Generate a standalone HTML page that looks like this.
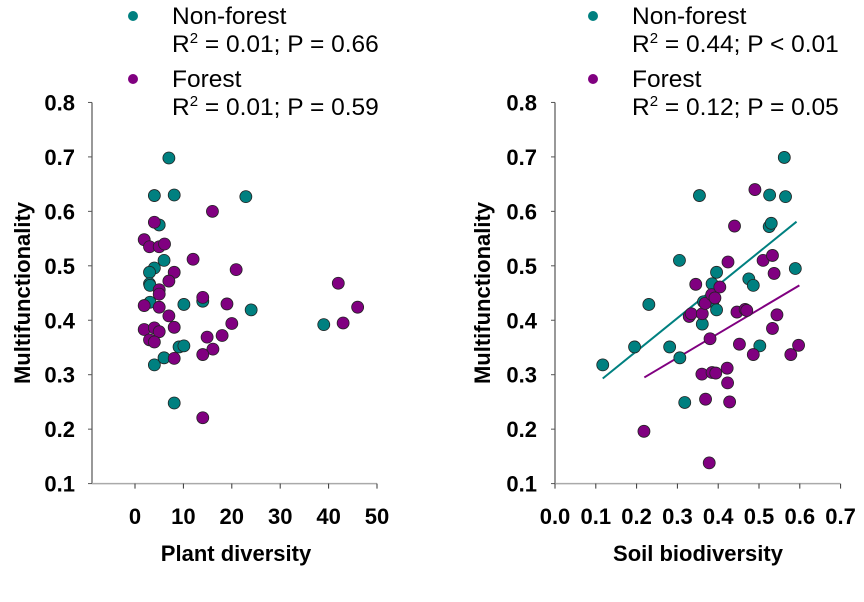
<!DOCTYPE html>
<html><head><meta charset="utf-8"><style>
body{margin:0;background:#fff;}
svg{font-family:"Liberation Sans",Arial,sans-serif;}
.tk{font-size:22px;font-weight:bold;}
.ttl{font-size:22px;font-weight:bold;}
.lg{font-size:24.5px;}
</style></head><body>
<svg id="chart" width="864" height="597" xmlns="http://www.w3.org/2000/svg"></svg>
<script>
const yTicks=[0.1,0.2,0.3,0.4,0.5,0.6,0.7,0.8];
const xTicksL=[0,10,20,30,40,50];
const xTicksR=[0.0,0.1,0.2,0.3,0.4,0.5,0.6,0.7];
const nfPlantX=[7,4,8.1,22.9,5,6,4,3,3,3.1,3.1,10.1,14,24,9.1,10.1,6,4,8.1,39];
const nfPlantY=[0.698,0.629,0.630,0.627,0.575,0.51,0.496,0.488,0.467,0.464,0.433,0.429,0.435,0.419,0.351,0.353,0.331,0.318,0.248,0.392];
const fPlantX=[16,4,1.9,3,5,6.1,12,20.9,8.1,7,5,5,1.9,5,14,19,7,20,1.9,4,5,8.1,3,4,14.9,18,16.1,14,8.1,14,42,46,43];
const fPlantY=[0.600,0.580,0.548,0.535,0.535,0.540,0.512,0.493,0.488,0.472,0.456,0.448,0.427,0.424,0.442,0.430,0.408,0.394,0.383,0.386,0.379,0.387,0.364,0.360,0.369,0.372,0.347,0.337,0.330,0.221,0.468,0.424,0.395];
const nfSoilX=[0.117,0.195,0.23,0.281,0.305,0.306,0.318,0.354,0.361,0.364,0.385,0.387,0.396,0.396,0.475,0.486,0.502,0.525,0.53,0.526,0.562,0.565,0.589];
const nfSoilY=[0.318,0.351,0.429,0.351,0.510,0.331,0.249,0.629,0.393,0.434,0.467,0.434,0.488,0.419,0.476,0.464,0.353,0.572,0.578,0.630,0.699,0.627,0.495];
const fSoilX=[0.218,0.329,0.334,0.345,0.361,0.368,0.369,0.36,0.38,0.384,0.392,0.385,0.394,0.378,0.404,0.422,0.423,0.428,0.424,0.44,0.446,0.452,0.466,0.47,0.486,0.49,0.51,0.533,0.537,0.533,0.544,0.578,0.597];
const fSoilY=[0.196,0.407,0.412,0.466,0.412,0.431,0.255,0.301,0.366,0.447,0.441,0.304,0.303,0.138,0.461,0.312,0.285,0.250,0.507,0.573,0.415,0.356,0.420,0.418,0.337,0.640,0.510,0.519,0.486,0.385,0.410,0.337,0.354];
const nfFitX=[0.117,0.592], nfFitY=[0.293,0.581];
const fFitX=[0.219,0.599], fFitY=[0.295,0.464];
const TEAL="#008080", PURP="#800080";
const svg=document.getElementById('chart');
const NS="http://www.w3.org/2000/svg";
function mk(tag,attrs,parent){const e=document.createElementNS(NS,tag);for(const k in attrs)e.setAttribute(k,attrs[k]);(parent||svg).appendChild(e);return e;}
const yS=v=>483.6-(v-0.1)*544.5;
const xL=v=>135+v*4.84;
const xR=v=>555+v*408;
function panel(name,axX,xEnd,xs,xticks,fmt,title,titleX,yLabX,yTitleX){
  const g=mk('g',{});
  
  
  const ya=mk('line',{x1:axX,y1:yS(0.8),x2:axX,y2:yS(0.1),stroke:'#555','stroke-width':1.2},g);
  
  const xa=mk('line',{x1:axX,y1:yS(0.1),x2:xEnd,y2:yS(0.1),stroke:'#aaa','stroke-width':1.5},g);
  
  yTicks.forEach(v=>{
    mk('line',{x1:axX-4,y1:yS(v),x2:axX,y2:yS(v),stroke:'#555'},g);
    const t=mk('text',{x:yLabX,y:yS(v)+8,'text-anchor':'end',class:'tk'},g);
    t.textContent=v.toFixed(1);
    
  });
  xticks.forEach(v=>{
    mk('line',{x1:xs(v),y1:yS(0.1),x2:xs(v),y2:yS(0.1)+5,stroke:'#333'},g);
    const t=mk('text',{x:xs(v),y:524,'text-anchor':'middle',class:'tk'},g);
    t.textContent=fmt(v);
    
  });
  const xt=mk('text',{x:titleX,y:561,'text-anchor':'middle',class:'ttl'},g);
  xt.textContent=title;
  const yt=mk('text',{x:0,y:0,'text-anchor':'middle',class:'ttl',transform:`translate(${yTitleX},293) rotate(-90)`},g);
  yt.textContent='Multifunctionality';
  return g;
}
function pts(g,X,Y,xs,col,nm){
  X.forEach((x,i)=>{const c=mk('circle',{cx:xs(x),cy:yS(Y[i]),r:6,fill:col,stroke:'#222','stroke-width':0.8},g);
    });
}
function legend(x0,r1,r2){
  const items=[['Non-forest',TEAL,r1,16],['Forest',PURP,r2,79]];
  items.forEach(([lab,col,r,y])=>{
    const c=mk('circle',{cx:x0,cy:y,r:5,fill:col});
    
    const t=mk('text',{x:x0+39,y:y+8,class:'lg'});t.textContent=lab;
    
    const s=mk('text',{x:x0+39,y:y+36,class:'lg'});
    s.innerHTML='R<tspan dy="-9" font-size="15">2</tspan><tspan dy="9"> = '+r+'</tspan>';
    
  });
}
const gL=panel('plant-diversity-panel',92,377,xL,xTicksL,v=>String(v),'Plant diversity',236,75,30);
pts(gL,nfPlantX,nfPlantY,xL,TEAL,'non-forest-point');
pts(gL,fPlantX,fPlantY,xL,PURP,'forest-point');
const gR=panel('soil-biodiversity-panel',555,840,xR,xTicksR,v=>v.toFixed(1),'Soil biodiversity',698,537,490);
const l1=mk('line',{x1:xR(nfFitX[0]),y1:yS(nfFitY[0]),x2:xR(nfFitX[1]),y2:yS(nfFitY[1]),stroke:TEAL,'stroke-width':2},gR);

const l2=mk('line',{x1:xR(fFitX[0]),y1:yS(fFitY[0]),x2:xR(fFitX[1]),y2:yS(fFitY[1]),stroke:PURP,'stroke-width':2},gR);

pts(gR,nfSoilX,nfSoilY,xR,TEAL,'non-forest-point');
pts(gR,fSoilX,fSoilY,xR,PURP,'forest-point');
legend(133,'0.01; P = 0.66','0.01; P = 0.59');
legend(593,'0.44; P &lt; 0.01','0.12; P = 0.05');
</script>
</body></html>
